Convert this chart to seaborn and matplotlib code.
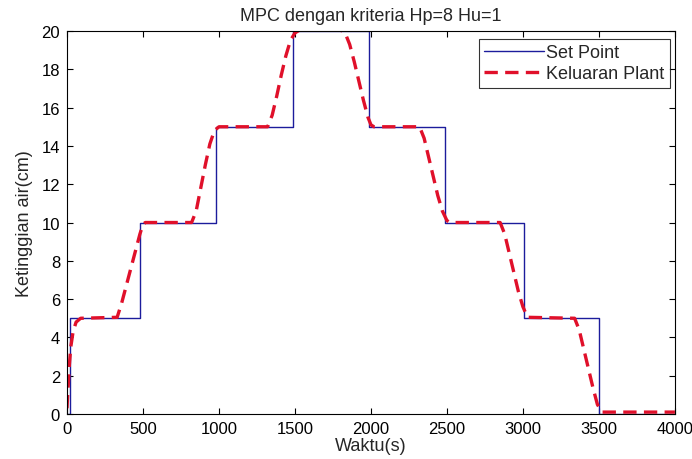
import matplotlib
matplotlib.use("Agg")
import matplotlib.pyplot as plt
import seaborn as sns
import pandas as pd

# Set point (step changes)
sp_time = [0, 20, 480, 980, 1490, 1990, 2490, 3010, 3500, 4000]
sp_value = [0, 5, 10, 15, 20, 15, 10, 5, 0, 0]

# Plant output
pl_time = [0, 8, 15, 25, 40, 60, 90, 330, 360, 390, 420, 450, 480, 500, 515,
           820, 850, 880, 910, 940, 970, 1000, 1320, 1350, 1380, 1410, 1440,
           1470, 1500, 1530, 1800, 1830, 1860, 1890, 1920, 1950, 1980, 2000,
           2020, 2320, 2350, 2380, 2410, 2440, 2470, 2500, 2520, 2850, 2880,
           2910, 2940, 2970, 3000, 3030, 3340, 3370, 3400, 3430, 3460, 3490,
           3520, 4000]
pl_value = [0.3, 1.5, 2.5, 3.5, 4.3, 4.8, 5.0, 5.05, 5.8, 6.7, 7.6, 8.5, 9.4, 9.9, 10.0,
            10.0, 10.6, 11.8, 13.0, 14.1, 14.8, 15.0, 15.0, 15.6, 16.6, 17.7, 18.7,
            19.5, 19.9, 20.05, 20.05, 19.9, 19.3, 18.4, 17.4, 16.4, 15.5, 15.1,
            15.0, 15.0, 14.4, 13.4, 12.4, 11.4, 10.6, 10.1, 10.0, 10.0, 9.4,
            8.4, 7.4, 6.4, 5.6, 5.05, 5.0, 4.4, 3.4, 2.4, 1.4, 0.5,
            0.1, 0.1]

x_ticks = [0, 500, 1000, 1500, 2000, 2500, 3000, 3500, 4000]
y_ticks = [0, 2, 4, 6, 8, 10, 12, 14, 16, 18, 20]

sns.set_style("ticks")
plt.rcParams['font.family'] = ['Liberation Sans', 'DejaVu Sans']

df_sp = pd.DataFrame({"t": sp_time, "y": sp_value})
df_pl = pd.DataFrame({"t": pl_time, "y": pl_value})

fig = plt.figure(figsize=(6.92, 4.60), dpi=100)
ax = fig.add_axes([0.0968, 0.0978, 0.8785, 0.8326])

sns.lineplot(data=df_sp, x="t", y="y", ax=ax, estimator=None, sort=False,
             drawstyle="steps-post", color="#1c1c9c", linewidth=1.0,
             label="Set Point")
sns.lineplot(data=df_pl, x="t", y="y", ax=ax, estimator=None, sort=False,
             color="#e0102a", linewidth=2.4, linestyle=(0, (4, 2.2)),
             label="Keluaran Plant")

ax.set_xlim(0, 4000)
ax.set_ylim(0, 20)
ax.set_xticks(x_ticks)
ax.set_yticks(y_ticks)
ax.tick_params(direction="in", top=True, right=True, labelsize=12,
               length=4, width=0.8, colors="black", pad=5)
for s in ax.spines.values():
    s.set_visible(True)
    s.set_color("black")
    s.set_linewidth(0.8)

ax.set_xlabel("Waktu(s)", fontsize=13, labelpad=1)
ax.set_ylabel("Ketinggian air(cm)", fontsize=13, labelpad=6)
ax.set_title("MPC dengan kriteria Hp=8 Hu=1", fontsize=13, pad=8)

leg = ax.legend(loc="upper right", fontsize=13, frameon=True, fancybox=False,
                edgecolor="black", handlelength=3.3, borderpad=0.3,
                labelspacing=0.2, handletextpad=0.15, borderaxespad=0,
                bbox_to_anchor=(0.992, 0.979))
leg.get_frame().set_linewidth(0.8)

fig.savefig("out.png", dpi=100)
